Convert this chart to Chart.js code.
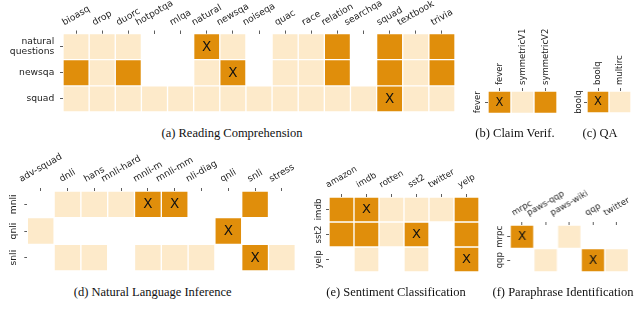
<!DOCTYPE html>
<html>
<head>
<meta charset="utf-8">
<script src="https://cdn.jsdelivr.net/npm/chart.js@4/dist/chart.umd.min.js"></script>
<style>
  body { margin: 0; width: 640px; height: 316px; position: relative; background: #fff; overflow: hidden; }
  .box { position: absolute; }
  .cap { position: absolute; font: 12.5px "Liberation Serif", serif; color: #111; white-space: nowrap; transform: translate(-50%, -50%); }
</style>
</head>
<body>
<script>
// 0 = not used, 1 = evaluated on (light), 2 = trained on (dark), 3 = same dataset (dark + X)
const rcCols = ['bioasq', 'drop', 'duorc', 'hotpotqa', 'mlqa', 'natural', 'newsqa', 'noiseqa', 'quac', 'race', 'relation', 'searchqa', 'squad', 'textbook', 'trivia'];
const rcRows = [['natural', 'questions'], 'newsqa', 'squad'];
const rcVals = [
  [1, 1, 1, 0, 0, 3, 1, 0, 1, 1, 2, 0, 2, 1, 2],
  [2, 1, 2, 0, 0, 1, 3, 0, 1, 1, 2, 0, 2, 1, 2],
  [1, 1, 1, 1, 1, 1, 1, 1, 1, 1, 1, 1, 3, 1, 1]
];

const cvCols = ['fever', 'symmetricV1', 'symmetricV2'];
const cvRows = ['fever'];
const cvVals = [[3, 1, 2]];

const qaCols = ['boolq', 'multirc'];
const qaRows = ['boolq'];
const qaVals = [[3, 1]];

const nliCols = ['adv-squad', 'dnli', 'hans', 'mnli-hard', 'mnli-m', 'mnli-mm', 'nli-diag', 'qnli', 'snli', 'stress'];
const nliRows = ['mnli', 'qnli', 'snli'];
const nliVals = [
  [0, 1, 1, 1, 3, 3, 0, 0, 2, 0],
  [1, 0, 0, 0, 0, 0, 0, 3, 0, 0],
  [0, 1, 1, 0, 1, 1, 1, 0, 3, 1]
];

const scCols = ['amazon', 'imdb', 'rotten', 'sst2', 'twitter', 'yelp'];
const scRows = ['imdb', 'sst2', 'yelp'];
const scVals = [
  [2, 3, 1, 1, 1, 2],
  [2, 2, 1, 3, 0, 2],
  [0, 1, 0, 1, 0, 3]
];

const ppCols = ['mrpc', 'paws-qqp', 'paws-wiki', 'qqp', 'twitter'];
const ppRows = ['mrpc', 'qqp'];
const ppVals = [
  [3, 0, 1, 0, 0],
  [0, 1, 0, 3, 1]
];

const DARK = '#e08e0b';
const LIGHT = '#fdeaca';
const TXT = '#222';

// the "X" on the diagonal cells
const markX = {
  id: 'markX',
  afterDatasetsDraw(chart, args, o) {
    const ctx = chart.ctx;
    const xs = chart.scales.x, ys = chart.scales.y;
    ctx.save();
    ctx.fillStyle = '#111';
    ctx.font = o.size + 'px "DejaVu Sans"';
    ctx.textAlign = 'center';
    ctx.textBaseline = 'middle';
    o.vals.forEach((row, i) => row.forEach((v, j) => {
      if (v === 3) ctx.fillText('X', xs.getPixelForValue(j), ys.getPixelForValue(i) + 0.5);
    }));
    ctx.restore();
  }
};

// tick labels centred on the ticks like matplotlib does with rotated labels
const tickText = {
  id: 'tickText',
  afterDraw(chart, args, o) {
    const ctx = chart.ctx, area = chart.chartArea;
    const xs = chart.scales.x, ys = chart.scales.y;
    const t = o.rot * Math.PI / 180;
    ctx.save();
    ctx.fillStyle = TXT;
    ctx.font = o.fs + 'px "DejaVu Sans"';
    ctx.textBaseline = 'middle';
    ctx.textAlign = 'center';
    o.cols.forEach((c, j) => {
      const w = ctx.measureText(c).width;
      const bh = w * Math.sin(t) + o.fs * Math.cos(t);
      ctx.save();
      ctx.translate(xs.getPixelForValue(j), area.top - o.xgap - bh / 2);
      ctx.rotate(-t);
      ctx.fillText(c, 0, 0);
      ctx.restore();
    });
    o.rows.forEach((r, i) => {
      const y = ys.getPixelForValue(i);
      if (o.yrot) {
        ctx.save();
        ctx.translate(area.left - o.ygap, y);
        ctx.rotate(-Math.PI / 2);
        ctx.textAlign = 'center';
        ctx.fillText(r, 0, 0);
        ctx.restore();
      } else {
        const lines = [].concat(r);
        ctx.textAlign = 'right';
        lines.forEach((s, k) => ctx.fillText(s, area.left - o.ygap, y + (k - (lines.length - 1) / 2) * o.fs * 1.1));
      }
    });
    ctx.restore();
  }
};

function heat(cols, rows, vals, g) {
  const div = document.createElement('div');
  div.className = 'box';
  const W = g.yw + g.w + g.pr, H = g.xh + g.h + 2;
  div.style.left = (g.x - g.yw) + 'px';
  div.style.top = (g.y - g.xh) + 'px';
  div.style.width = W + 'px';
  div.style.height = H + 'px';
  const cv = document.createElement('canvas');
  div.appendChild(cv);
  document.body.appendChild(div);

  new Chart(cv, {
    type: 'bar',
    data: {
      labels: cols,
      datasets: rows.map((r, i) => ({
        data: vals[i].map(v => v ? [i - 0.5, i + 0.5] : null),
        backgroundColor: vals[i].map(v => v >= 2 ? DARK : LIGHT),
        borderColor: '#fff',
        borderWidth: 1,
        borderSkipped: false
      }))
    },
    options: {
      responsive: true,
      maintainAspectRatio: false,
      animation: false,
      layout: { autoPadding: false, padding: { left: 0, top: 0, right: g.pr, bottom: 2 } },
      datasets: { bar: { grouped: false, barPercentage: 1, categoryPercentage: 1 } },
      plugins: {
        legend: { display: false },
        tooltip: { enabled: false },
        markX: { vals: vals, size: g.xs },
        tickText: { cols: cols, rows: rows, fs: g.fs, rot: g.rot, yrot: g.yrot, xgap: g.xgap, ygap: g.ygap }
      },
      scales: {
        x: {
          position: 'top',
          grid: { offset: false, drawOnChartArea: false, tickLength: 3, tickColor: '#333', tickWidth: 0.8 },
          border: { display: false },
          ticks: { display: false },
          afterFit: s => { s.height = g.xh; s.paddingLeft = 0; s.paddingRight = 0; }
        },
        y: {
          type: 'linear',
          reverse: true,
          min: -0.5,
          max: rows.length - 0.5,
          afterBuildTicks: s => { s.ticks = rows.map((r, i) => ({ value: i })); },
          grid: { drawOnChartArea: false, tickLength: 3, tickColor: '#333', tickWidth: 0.8 },
          border: { display: false },
          ticks: { display: false },
          afterFit: s => { s.width = g.yw; s.paddingTop = 0; s.paddingBottom = 0; }
        }
      }
    },
    plugins: [markX, tickText]
  });
}

function caption(text, x, y) {
  const d = document.createElement('div');
  d.className = 'cap';
  d.textContent = text;
  d.style.left = x + 'px';
  d.style.top = y + 'px';
  document.body.appendChild(d);
}

heat(rcCols, rcRows, rcVals, { x: 63, y: 33.5, w: 392, h: 78.5, yw: 63, xh: 33.5, pr: 10, fs: 9.2, xs: 13.5, rot: 30, yrot: 0, xgap: 6, ygap: 8.7 });
heat(cvCols, cvRows, cvVals, { x: 487.5, y: 90.5, w: 69, h: 22.5, yw: 20, xh: 62, pr: 4, fs: 8.5, xs: 11.5, rot: 90, yrot: 90, xgap: 6, ygap: 10.5 });
heat(qaCols, qaRows, qaVals, { x: 586.5, y: 91, w: 44, h: 22, yw: 20, xh: 62, pr: 4, fs: 8.5, xs: 11.5, rot: 90, yrot: 90, xgap: 6, ygap: 8.2 });
heat(nliCols, nliRows, nliVals, { x: 27.3, y: 190.5, w: 268, h: 80, yw: 27.3, xh: 50, pr: 10, fs: 9.2, xs: 13.5, rot: 30, yrot: 90, xgap: 7, ygap: 13.3 });
heat(scCols, scRows, scVals, { x: 329.3, y: 196.5, w: 150, h: 75, yw: 26, xh: 40, pr: 8, fs: 8.6, xs: 13, rot: 30, yrot: 90, xgap: 7.5, ygap: 10 });
heat(ppCols, ppRows, ppVals, { x: 510, y: 225, w: 117.5, h: 47, yw: 24, xh: 40, pr: 10, fs: 8.5, xs: 12, rot: 30, yrot: 90, xgap: 7.5, ygap: 10 });

caption('(a) Reading Comprehension', 232, 133);
caption('(b) Claim Verif.', 515, 133);
caption('(c) QA', 600, 133);
caption('(d) Natural Language Inference', 152.7, 292);
caption('(e) Sentiment Classification', 396, 292);
caption('(f) Paraphrase Identification', 563, 292);
</script>
</body>
</html>
